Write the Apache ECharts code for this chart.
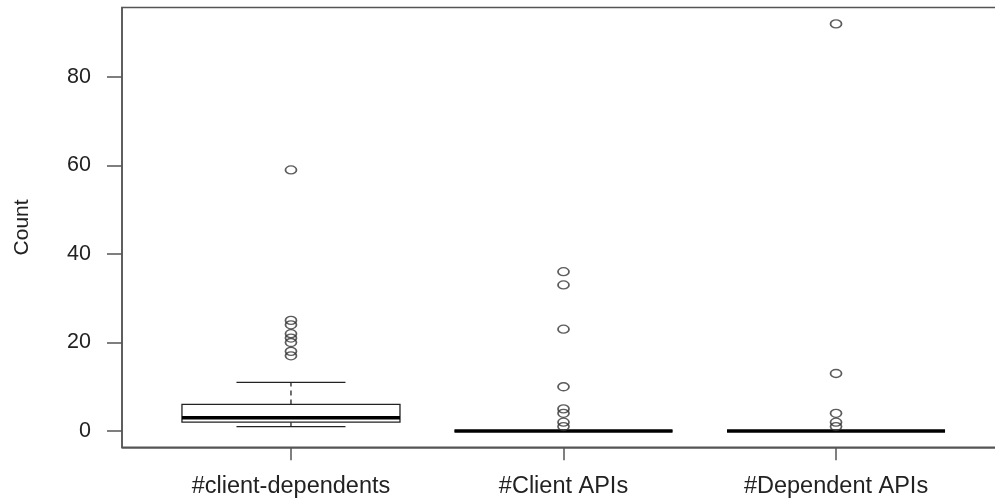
<!DOCTYPE html>
<html><head><meta charset="utf-8">
<script src="https://cdn.jsdelivr.net/npm/echarts@6/dist/echarts.min.js"></script>
<style>html,body{margin:0;padding:0;background:#fff}#c{width:995px;height:499px}</style>
</head><body><div id="c"></div>
<script>
// ---- data ----
const categories = ['#client-dependents', '#Client APIs', '#Dependent APIs'];
const lowerWhisker = [1, 0, 0];
const q1 = [2, 0, 0];
const median = [3, 0, 0];
const q3 = [6, 0, 0];
const upperWhisker = [11, 0, 0];
const outliersClientDependents = [59, 25, 24, 22, 21, 20, 18, 17];
const outliersClientAPIs = [36, 33, 23, 10, 5, 4, 2, 1];
const outliersDependentAPIs = [92, 13, 4, 2, 1];
const yTickValues = [0, 20, 40, 60, 80];
const yAxisTitle = 'Count';

// ---- build ----
const positions = categories.map((c, i) => i + 1);
const boxData = categories.map((c, i) => [positions[i], lowerWhisker[i], q1[i], median[i], q3[i], upperWhisker[i]]);
const outlierSets = [outliersClientDependents, outliersClientAPIs, outliersDependentAPIs];
const outlierData = [];
outlierSets.forEach((arr, i) => arr.forEach(v => outlierData.push([positions[i], v])));

const FONT = 'Liberation Sans, Arial, sans-serif';
const chart = echarts.init(document.getElementById('c'), null, {renderer: 'canvas'});

chart.setOption({
  animation: false,
  backgroundColor: '#fff',
  grid: {
    left: 122, top: 7.6, width: 883, height: 439.7,
    outerBoundsMode: 'none', containLabel: false,
    show: true, borderColor: '#555', borderWidth: 1.5, backgroundColor: 'transparent'
  },
  xAxis: {
    type: 'value', min: 0.38, max: 3.62,
    axisLine: {show: true, onZero: false, lineStyle: {color: '#555', width: 1.5}},
    axisTick: {show: true, customValues: positions, length: 13, lineStyle: {color: '#555', width: 1.5}},
    axisLabel: {
      customValues: positions, margin: 27,
      formatter: v => categories[Math.round(v) - 1] || '',
      fontFamily: FONT, fontSize: 23.5, color: '#222'
    },
    splitLine: {show: false}
  },
  yAxis: {
    type: 'value', min: -3.68, max: 95.68,
    name: yAxisTitle, nameLocation: 'middle', nameGap: 89, nameRotate: 90,
    nameTextStyle: {fontFamily: FONT, fontSize: 21, color: '#222'},
    axisLine: {show: true, onZero: false, lineStyle: {color: '#555', width: 1.5}},
    axisTick: {show: true, customValues: yTickValues, length: 15, lineStyle: {color: '#555', width: 1.5}},
    axisLabel: {
      customValues: yTickValues, margin: 31,
      fontFamily: FONT, fontSize: 21.5, color: '#222'
    },
    splitLine: {show: false}
  },
  series: [
    {
      type: 'custom',
      data: boxData,
      z: 3,
      renderItem: function (params, api) {
        const x = api.value(0);
        const pLo = api.coord([x, api.value(1)]);
        const pQ1 = api.coord([x, api.value(2)]);
        const pMed = api.coord([x, api.value(3)]);
        const pQ3 = api.coord([x, api.value(4)]);
        const pHi = api.coord([x, api.value(5)]);
        const halfW = api.size([0.4, 0])[0];
        const capW = halfW / 2;
        const cx = pMed[0];
        const stroke = '#222';
        return {
          type: 'group',
          children: [
            {type: 'line', shape: {x1: cx, y1: pQ3[1], x2: cx, y2: pHi[1]},
             style: {stroke: stroke, lineWidth: 1.3, lineDash: [5, 4]}},
            {type: 'line', shape: {x1: cx, y1: pQ1[1], x2: cx, y2: pLo[1]},
             style: {stroke: stroke, lineWidth: 1.3, lineDash: [5, 4]}},
            {type: 'line', shape: {x1: cx - capW, y1: pHi[1], x2: cx + capW, y2: pHi[1]},
             style: {stroke: stroke, lineWidth: 1.3}},
            {type: 'line', shape: {x1: cx - capW, y1: pLo[1], x2: cx + capW, y2: pLo[1]},
             style: {stroke: stroke, lineWidth: 1.3}},
            {type: 'rect', shape: {x: cx - halfW, y: pQ3[1], width: 2 * halfW, height: pQ1[1] - pQ3[1]},
             style: {fill: '#fff', stroke: stroke, lineWidth: 1.3}},
            {type: 'line', shape: {x1: cx - halfW, y1: pMed[1], x2: cx + halfW, y2: pMed[1]},
             style: {stroke: '#000', lineWidth: 3.6}}
          ]
        };
      }
    },
    {
      type: 'scatter',
      data: outlierData,
      z: 4,
      symbol: 'circle',
      symbolSize: [11, 8],
      itemStyle: {color: 'rgba(0,0,0,0)', borderColor: '#333', borderWidth: 1.5}
    }
  ]
});
</script>
</body></html>
